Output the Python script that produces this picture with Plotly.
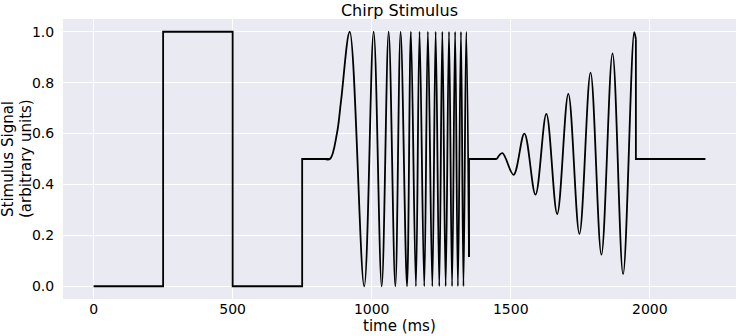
import plotly.graph_objects as go

# --- data ---
# step section (ms, value)
step_t = [0, 250, 250, 500, 500, 750, 750, 850]
step_v = [0.0, 0.0, 1.0, 1.0, 0.0, 0.0, 0.5, 0.5]

# frequency chirp: onset, then alternating peaks / troughs, end value
fchirp_t = [830, 850, 875, 890, 921, 973, 1007, 1036, 1061, 1085, 1104, 1127,
            1141, 1159, 1172, 1189, 1202, 1218, 1230, 1243, 1254, 1266, 1278,
            1289, 1300, 1310, 1321, 1330, 1340, 1350]
fchirp_v = [0.5, 0.5, 0.60, 0.73, 1.0, 0.0, 1.0, 0.0, 1.0, 0.0, 1.0, 0.0,
            1.0, 0.0, 1.0, 0.0, 1.0, 0.0, 1.0, 0.0, 1.0, 0.0, 1.0,
            0.0, 1.0, 0.0, 1.0, 0.0, 1.0, 0.115]

# gap between chirps
gap_t = [1350, 1350, 1450]
gap_v = [0.115, 0.5, 0.5]

# amplitude chirp: alternating peaks / troughs
achirp_t = [1450, 1470, 1510, 1549, 1589, 1628, 1667, 1707, 1747, 1787,
            1826, 1866, 1904, 1944, 1950]
achirp_v = [0.5, 0.523, 0.438, 0.60, 0.36, 0.677, 0.284, 0.756, 0.206, 0.839,
            0.124, 0.915, 0.048, 0.998, 0.97]

# tail
tail_t = [1950, 1950, 2200]
tail_v = [0.97, 0.5, 0.5]

x_ticks = [0, 500, 1000, 1500, 2000]
y_ticks = [0.0, 0.2, 0.4, 0.6, 0.8, 1.0]
y_title_lines = ["Stimulus Signal", "(arbitrary units)"]

FONT = "DejaVu Sans"
LW = 1.8
LINE = dict(color="black", width=LW)

fig = go.Figure()
fig.add_trace(go.Scatter(x=step_t, y=step_v, mode="lines", line=LINE))
fig.add_trace(go.Scatter(x=fchirp_t, y=fchirp_v, mode="lines",
                         line=dict(color="black", width=LW, shape="spline", smoothing=1)))
fig.add_trace(go.Scatter(x=gap_t, y=gap_v, mode="lines", line=LINE))
fig.add_trace(go.Scatter(x=achirp_t, y=achirp_v, mode="lines",
                         line=dict(color="black", width=LW, shape="spline", smoothing=1)))
fig.add_trace(go.Scatter(x=tail_t, y=tail_v, mode="lines", line=LINE))

fig.update_layout(
    width=737, height=336,
    margin=dict(l=63, r=1, t=19, b=37),
    paper_bgcolor="white",
    plot_bgcolor="#EAEAF2",
    showlegend=False,
    font=dict(family=FONT, size=14, color="black"),
    title=dict(text="Chirp Stimulus", x=0.5, xref="paper", xanchor="center",
               y=0.97, yref="container", yanchor="middle",
               font=dict(family=FONT, size=16, color="black")),
)
fig.update_xaxes(
    range=[-110, 2310], tickvals=x_ticks, automargin=False,
    showgrid=True, gridcolor="white", gridwidth=1, zeroline=False,
    showline=False, ticks="",
    tickfont=dict(family=FONT, size=14, color="black"),
)
fig.update_yaxes(
    range=[-0.05, 1.05], tickvals=y_ticks, tickformat=".1f", automargin=False,
    showgrid=True, gridcolor="white", gridwidth=1, zeroline=False,
    showline=False, ticks="outside", ticklen=5, tickcolor="rgba(0,0,0,0)",
    tickfont=dict(family=FONT, size=14, color="black"),
)
# axis titles placed as in the reference
fig.add_annotation(
    text="time (ms)", xref="paper", yref="paper", x=0.5, y=0,
    xanchor="center", yanchor="middle", yshift=-27, showarrow=False,
    font=dict(family=FONT, size=15, color="black"),
)
for line_text, shift in zip(y_title_lines, [-55, -37]):
    fig.add_annotation(
        text=line_text, textangle=-90,
        xref="paper", yref="paper", x=0, y=0.5, xanchor="center", yanchor="middle",
        xshift=shift, showarrow=False,
        font=dict(family=FONT, size=15, color="black"),
    )

fig.write_html("out.html", config={"displayModeBar": False},
               post_script="document.body.style.margin='0';")
